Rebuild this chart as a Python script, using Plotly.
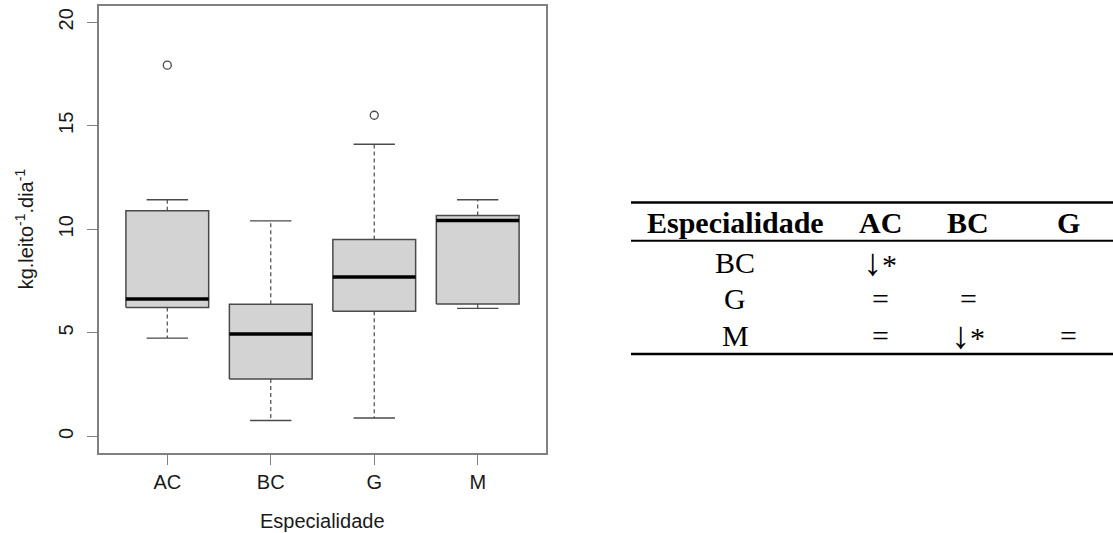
import plotly.graph_objects as go

# ---------------- data ----------------
categories = ["AC", "BC", "G", "M"]
lower_whisker = [4.75, 0.77, 0.89, 6.18]
q1 = [6.23, 2.77, 6.05, 6.39]
median = [6.64, 4.95, 7.70, 10.43]
q3 = [10.90, 6.38, 9.51, 10.67]
upper_whisker = [11.43, 10.41, 14.11, 11.43]
outlier_cat = ["AC", "G"]
outlier_val = [17.93, 15.51]

y_ticks = [0, 5, 10, 15, 20]
x_title = "Especialidade"
y_title = "kg.leito<sup>-1</sup>.dia<sup>-1</sup>"

table_header = ["Especialidade", "AC", "BC", "G"]
table_rows = ["BC", "G", "M"]
table_cells = [
    ["↓*", "", ""],
    ["=", "=", ""],
    ["=", "↓*", "="],
]

# ---------------- layout constants ----------------
W, H = 1113, 533
BOX_HALF = 0.4
CAP_HALF = 0.2
box_line = "#4a4a4a"
frame_col = "#808080"
txt_col = "#1a1a1a"
sans = "Liberation Sans, Arial, sans-serif"
serif = "Liberation Serif, Times New Roman, serif"
FS = 20

pos = {c: i + 1 for i, c in enumerate(categories)}

fig = go.Figure()

# whiskers (dashed)
wx, wy = [], []
for c, lo, a, b, hi in zip(categories, lower_whisker, q1, q3, upper_whisker):
    p = pos[c]
    wx += [p, p, None, p, p, None]
    wy += [b, hi, None, a, lo, None]
fig.add_trace(go.Scatter(x=wx, y=wy, mode="lines",
                         line=dict(color=box_line, width=1.2, dash="4px,3px"),
                         hoverinfo="skip", showlegend=False))

# caps
cx, cy = [], []
for c, lo, hi in zip(categories, lower_whisker, upper_whisker):
    p = pos[c]
    cx += [p - CAP_HALF, p + CAP_HALF, None, p - CAP_HALF, p + CAP_HALF, None]
    cy += [hi, hi, None, lo, lo, None]
fig.add_trace(go.Scatter(x=cx, y=cy, mode="lines",
                         line=dict(color=box_line, width=1.3),
                         hoverinfo="skip", showlegend=False))

# boxes
for c, a, b in zip(categories, q1, q3):
    p = pos[c]
    fig.add_trace(go.Scatter(
        x=[p - BOX_HALF, p + BOX_HALF, p + BOX_HALF, p - BOX_HALF, p - BOX_HALF],
        y=[a, a, b, b, a], mode="lines", fill="toself",
        fillcolor="#d3d3d3", line=dict(color=box_line, width=1.5),
        hoverinfo="skip", showlegend=False))

# medians
mx, my = [], []
for c, m in zip(categories, median):
    p = pos[c]
    mx += [p - BOX_HALF, p + BOX_HALF, None]
    my += [m, m, None]
fig.add_trace(go.Scatter(x=mx, y=my, mode="lines",
                         line=dict(color="#000000", width=3.5),
                         hoverinfo="skip", showlegend=False))

# outliers
fig.add_trace(go.Scatter(x=[pos[c] for c in outlier_cat], y=outlier_val,
                         mode="markers",
                         marker=dict(symbol="circle-open", size=8,
                                     color=box_line, line=dict(width=1.3)),
                         hoverinfo="skip", showlegend=False))

# plot area in pixels
px_l, px_r, px_t, px_b = 99, 546, 5.7, 453

fig.update_layout(
    width=W, height=H,
    margin=dict(l=0, r=0, t=0, b=0),
    paper_bgcolor="white", plot_bgcolor="white",
    font=dict(family=sans, size=FS, color=txt_col),
    xaxis=dict(domain=[px_l / W, px_r / W], range=[0.34, 4.66],
               tickvals=[pos[c] for c in categories], ticktext=categories,
               ticks="outside", ticklen=10, tickcolor=frame_col, tickwidth=1.2,
               showline=True, mirror=True, linecolor=frame_col, linewidth=1.5,
               showgrid=False, zeroline=False,
               tickfont=dict(family=sans, size=FS, color=txt_col)),
    yaxis=dict(domain=[1 - px_b / H, 1 - px_t / H], range=[-0.8, 20.8],
               tickvals=y_ticks, ticktext=[str(v) for v in y_ticks],
               tickangle=-90, ticklabelstandoff=6,
               ticks="outside", ticklen=10, tickcolor=frame_col, tickwidth=1.2,
               showline=True, mirror=True, linecolor=frame_col, linewidth=1.5,
               showgrid=False, zeroline=False,
               tickfont=dict(family=sans, size=FS, color=txt_col)),
)

# axis titles
fig.add_annotation(text=x_title, xref="paper", yref="paper",
                   x=((px_l + px_r) / 2) / W, y=1 - 521 / H,
                   xanchor="center", yanchor="middle", showarrow=False,
                   font=dict(family=sans, size=FS, color=txt_col))
fig.add_annotation(text=y_title, xref="paper", yref="paper",
                   x=24 / W, y=1 - ((px_t + px_b) / 2) / H, textangle=-90,
                   xanchor="center", yanchor="middle", showarrow=False,
                   font=dict(family=sans, size=FS, color=txt_col))

# ---------------- table ----------------
col_x = [735, 880, 968, 1068]          # px centres of columns
row_y = [222, 262, 298, 335]           # px centres: header + rows
TFS = 30


def P(xp, yp):
    return xp / W, 1 - yp / H


def fmt(v):
    if v.startswith("↓"):
        return '<span style="font-size:38px">↓</span>' + v[1:]
    return v


for j, h in enumerate(table_header):
    x, y = P(col_x[j], row_y[0])
    fig.add_annotation(text=f"<b>{h}</b>", xref="paper", yref="paper",
                       x=x, y=y, xanchor="center", yanchor="middle",
                       showarrow=False,
                       font=dict(family=serif, size=TFS, color="#000000"))

for i, r in enumerate(table_rows):
    x, y = P(col_x[0], row_y[i + 1])
    fig.add_annotation(text=r, xref="paper", yref="paper",
                       x=x, y=y, xanchor="center", yanchor="middle",
                       showarrow=False,
                       font=dict(family=serif, size=TFS, color="#000000"))
    for j, v in enumerate(table_cells[i]):
        if not v:
            continue
        x, y = P(col_x[j + 1], row_y[i + 1])
        fig.add_annotation(text=fmt(v), xref="paper", yref="paper",
                           x=x, y=y, xanchor="center", yanchor="middle",
                           showarrow=False,
                           font=dict(family=serif, size=TFS, color="#000000"))

# table rules
for yp, lw in [(202.5, 2.5), (240.7, 2.0), (354, 2.5)]:
    fig.add_shape(type="line", xref="paper", yref="paper",
                  x0=631 / W, x1=1.0, y0=1 - yp / H, y1=1 - yp / H,
                  line=dict(color="#000000", width=lw))

fig.write_html("out.html", config={"displayModeBar": False},
               post_script="document.body.style.margin='0';"
                           "document.body.style.overflow='hidden';")
